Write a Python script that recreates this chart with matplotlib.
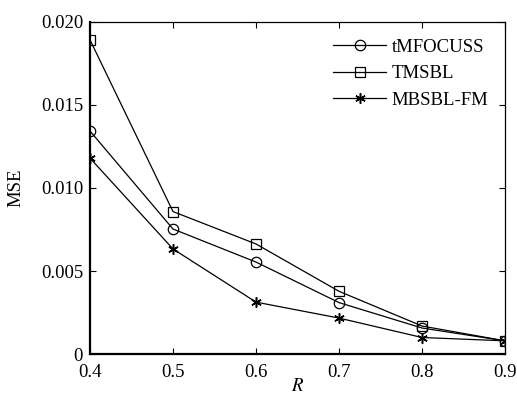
import matplotlib
matplotlib.use("Agg")
import matplotlib.pyplot as plt

plt.rcParams['font.family'] = ['Liberation Serif', 'DejaVu Serif']
plt.rcParams['mathtext.fontset'] = 'stix'

R = [0.4, 0.5, 0.6, 0.7, 0.8, 0.9]
tmfocuss = [0.01343, 0.00753, 0.00554, 0.00310, 0.00157, 0.00080]
tmsbl = [0.01892, 0.00858, 0.00663, 0.00378, 0.00169, 0.00080]
mbsbl_fm = [0.01180, 0.00633, 0.00313, 0.00217, 0.00100, 0.00080]
xticks = [0.4, 0.5, 0.6, 0.7, 0.8, 0.9]
yticks = [0, 0.005, 0.010, 0.015, 0.020]
ytick_labels = ['0', '0.005', '0.010', '0.015', '0.020']

fig = plt.figure(figsize=(5.17, 3.97), dpi=100)
ax = fig.add_axes([0.174, 0.108, 0.803, 0.837])

ax.plot(R, tmfocuss, color='black', lw=0.9, marker='o', ms=7.5, mfc='none', mec='black', mew=0.9, label='tMFOCUSS')
ax.plot(R, tmsbl, color='black', lw=0.9, marker='s', ms=6.5, mfc='none', mec='black', mew=0.9, label='TMSBL')
ax.plot(R, mbsbl_fm, color='black', lw=0.9, marker=(6, 2, 0), ms=7.5, mfc='black', mec='black', mew=1.1, label='MBSBL-FM')

ax.set_xlim(0.4, 0.9)
ax.set_ylim(0, 0.020)
ax.set_xticks(xticks)
ax.set_xticklabels([f'{v:.1f}' for v in xticks])
ax.set_yticks(yticks)
ax.set_yticklabels(ytick_labels)
ax.tick_params(direction='in', top=True, right=True, labelsize=13.5, length=4, width=0.8)
ax.tick_params(axis='x', pad=7)
ax.tick_params(axis='y', pad=5)

for s in ['left', 'bottom']:
    ax.spines[s].set_linewidth(1.6)
for s in ['top', 'right']:
    ax.spines[s].set_linewidth(0.9)

ax.set_xlabel('$R$', fontsize=13.5, labelpad=-2)
ax.set_ylabel('MSE', fontsize=13.5, labelpad=12)

leg = ax.legend(loc='upper right', frameon=False, fontsize=13.5, handlelength=2.8,
                handletextpad=0.3, labelspacing=0.5, borderaxespad=0.5)

fig.savefig('out.png', dpi=100)
